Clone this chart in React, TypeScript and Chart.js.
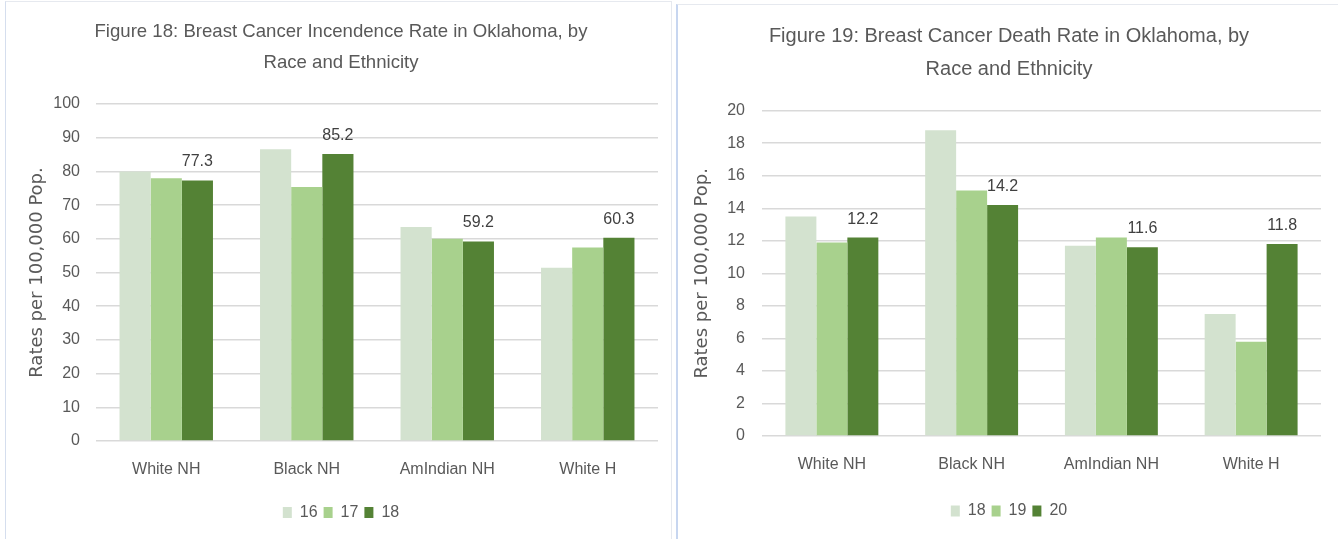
import React, { useEffect, useRef } from "react";
import { Chart, registerables } from "chart.js";

Chart.register(...registerables);

// ---------- data ----------
const categories = ["White NH", "Black NH", "AmIndian NH", "White H"];

const incidenceTitle = ["Figure 18: Breast Cancer Incendence Rate in Oklahoma, by", "Race and Ethnicity"];
const incidenceYears = ["16", "17", "18"];
const incidence16 = [80.0, 86.6, 63.5, 51.4];
const incidence17 = [78.0, 75.4, 60.0, 57.4];
const incidence18 = [77.3, 85.2, 59.2, 60.3];
const incidenceAxis = { min: 0, max: 100, step: 10 };

const deathTitle = ["Figure 19: Breast Cancer Death Rate in Oklahoma, by", "Race and Ethnicity"];
const deathYears = ["18", "19", "20"];
const death18 = [13.5, 18.8, 11.7, 7.5];
const death19 = [11.9, 15.1, 12.2, 5.8];
const death20 = [12.2, 14.2, 11.6, 11.8];
const deathAxis = { min: 0, max: 20, step: 2 };

const yAxisTitle = "Rates per 100,000 Pop.";
const seriesColors = ["#D3E2CF", "#A8D18D", "#548235"];

// ---------- styling ----------
const SANS = "'Liberation Sans', Arial, sans-serif";
const GRAY = "#595959";

const valueLabels = {
  id: "valueLabels",
  afterDatasetsDraw(chart: any, _args: any, opts: any) {
    const idx = opts.datasetIndex;
    if (idx === undefined) return;
    const meta = chart.getDatasetMeta(idx);
    const data = chart.data.datasets[idx].data;
    const ctx = chart.ctx;
    ctx.save();
    ctx.font = opts.font;
    ctx.fillStyle = opts.color;
    ctx.textAlign = "center";
    ctx.textBaseline = "alphabetic";
    meta.data.forEach((el: any, i: number) => {
      ctx.fillText(Number(data[i]).toFixed(1), el.x, el.y - opts.offset);
    });
    ctx.restore();
  },
};

type PanelCfg = {
  title: string[];
  years: string[];
  series: number[][];
  axis: { min: number; max: number; step: number };
  width: number;
  height: number;
  pad: { top: number; left: number; right: number; bottom: number };
  titleSize: number;
  titleLine: number;
  titleGap: number;
  yWidth: number;
  yTickPad: number;
  yTitlePadTop: number;
  xHeight: number;
  xTickPad: number;
};

function buildConfig(c: PanelCfg): any {
  return {
    type: "bar",
    data: {
      labels: categories,
      datasets: c.years.map((y, i) => ({
        label: y,
        data: c.series[i],
        backgroundColor: seriesColors[i],
        borderWidth: 0,
        categoryPercentage: 0.665,
        barPercentage: 1.0,
      })),
    },
    options: {
      animation: false,
      responsive: false,
      maintainAspectRatio: false,
      devicePixelRatio: 1,
      events: [],
      layout: { padding: c.pad },
      scales: {
        x: {
          grid: { display: false, drawTicks: false },
          border: { display: false },
          ticks: {
            color: GRAY,
            padding: c.xTickPad,
            font: { family: SANS, size: 16, lineHeight: 1.2 },
            maxRotation: 0,
          },
          afterFit: (s: any) => {
            s.height = c.xHeight;
          },
        },
        y: {
          min: c.axis.min,
          max: c.axis.max,
          ticks: {
            stepSize: c.axis.step,
            color: GRAY,
            padding: c.yTickPad,
            font: { family: SANS, size: 16, lineHeight: 1.2 },
          },
          grid: { color: "#D9D9D9", lineWidth: 1.5, drawTicks: false },
          border: { display: false },
          title: {
            display: true,
            text: yAxisTitle,
            color: GRAY,
            font: { family: "'DejaVu Sans', sans-serif", size: 18, lineHeight: 1.2 },
            padding: { top: c.yTitlePadTop, bottom: 0 },
          },
          afterFit: (s: any) => {
            s.width = c.yWidth;
          },
        },
      },
      plugins: {
        tooltip: { enabled: false },
        title: {
          display: true,
          text: c.title,
          color: GRAY,
          font: { family: SANS, size: c.titleSize, weight: "normal", lineHeight: c.titleLine },
          padding: { top: 0, bottom: c.titleGap },
        },
        legend: {
          position: "bottom",
          labels: {
            boxWidth: 9,
            boxHeight: 11,
            padding: 6,
            color: GRAY,
            font: { family: SANS, size: 16 },
          },
        },
        valueLabels: {
          datasetIndex: 2,
          font: `16px ${SANS}`,
          color: "#404040",
          offset: 14,
        },
      },
    },
    plugins: [valueLabels],
  };
}

const leftCfg: PanelCfg = {
  title: incidenceTitle,
  years: incidenceYears,
  series: [incidence16, incidence17, incidence18],
  axis: incidenceAxis,
  width: 672,
  height: 539,
  pad: { top: 16.75, left: 24, right: 14, bottom: 8.5 },
  titleSize: 18.6,
  titleLine: 30.5 / 18.6,
  titleGap: 26.25,
  yWidth: 72,
  yTickPad: 16,
  yTitlePadTop: 2.2,
  xHeight: 57.5,
  xTickPad: 19.4,
};

const rightCfg: PanelCfg = {
  title: deathTitle,
  years: deathYears,
  series: [death18, death19, death20],
  axis: deathAxis,
  width: 662,
  height: 539,
  pad: { top: 20.45, left: 21, right: 17, bottom: 10 },
  titleSize: 20,
  titleLine: 32.7 / 20,
  titleGap: 24.85,
  yWidth: 65,
  yTickPad: 17,
  yTitlePadTop: -5.8,
  xHeight: 61,
  xTickPad: 19.4,
};

function Panel({ cfg, left }: { cfg: PanelCfg; left: number }) {
  const ref = useRef<HTMLCanvasElement | null>(null);
  useEffect(() => {
    if (!ref.current) return;
    const chart = new Chart(ref.current, buildConfig(cfg));
    return () => chart.destroy();
  }, [cfg]);
  return (
    <canvas
      ref={ref}
      width={cfg.width}
      height={cfg.height}
      style={{ position: "absolute", left, top: 0, width: cfg.width, height: cfg.height }}
    />
  );
}

export default function App() {
  return (
    <div
      style={{
        position: "fixed",
        left: 0,
        top: 0,
        width: 1338,
        height: 539,
        background: "#ffffff",
        overflow: "hidden",
      }}
    >
      <div
        style={{
          position: "absolute",
          left: 5,
          top: 1,
          width: 667,
          height: 560,
          borderLeft: "1px solid #D5DEEE",
          borderTop: "1px solid #E6E9EF",
          borderRight: "1px solid #E6E9EF",
          boxSizing: "border-box",
        }}
      />
      <div
        style={{
          position: "absolute",
          left: 676,
          top: 4,
          width: 680,
          height: 560,
          borderLeft: "2px solid #C7D6F0",
          borderTop: "1px solid #E6E9EF",
          boxSizing: "border-box",
        }}
      />
      <Panel cfg={leftCfg} left={0} />
      <Panel cfg={rightCfg} left={676} />
    </div>
  );
}
